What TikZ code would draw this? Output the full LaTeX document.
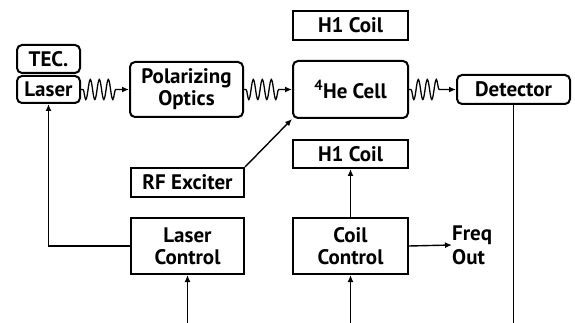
\documentclass[tikz,border=0pt]{standalone}
\usepackage{fontspec}
\setmainfont{PT Sans}
\usetikzlibrary{arrows.meta,decorations.pathmorphing}

\tikzset{
  blk/.style={draw, line width=2pt, minimum width=113pt, minimum height=29pt,
    inner sep=1pt, align=center, font=\fontsize{21}{22}\selectfont\bfseries},
  rblk/.style={blk, rounded corners=5pt},
  wave/.style={->, line width=1.3pt, decorate,
    decoration={snake, mirror, segment length=9pt, amplitude=10pt, pre length=2pt, post length=13pt}},
  link/.style={->, line width=1.4pt}
}

\begin{document}
\begin{tikzpicture}[>={Latex[length=7pt,width=6pt]}, x=1pt, y=-1pt]

\useasboundingbox (0,0) rectangle (575,323);

%==================================================
% Top row: laser, optics, cell, detector
%==================================================
\node[rblk, minimum width=63pt, minimum height=28pt] (tec)   at (48.5,59)   {TEC.};
\node[rblk, minimum width=63pt, minimum height=27pt] (laser) at (48.5,89.5) {Laser};
\node[rblk, minimum height=55pt] (optics) at (186.5,89.5) {Polarizing\\Optics};
\node[rblk, minimum width=115pt, minimum height=57pt] (cell) at (350.5,89.5) {$^{\mathbf 4}$He Cell};
\node[rblk, minimum height=29pt] (det) at (513.5,89.5) {Detector};

% Coils around the cell
\node[blk, minimum width=115pt] (coiltop) at (350.5,25.5) {H1 Coil};
\node[blk, minimum width=115pt, minimum height=28pt] (coilbot) at (350.5,154) {H1 Coil};

%==================================================
% Lower row: exciter and controllers
%==================================================
\node[blk] (rf) at (187.5,182.5) {RF Exciter};
\node[blk, minimum height=56pt] (lasctl)  at (187.5,246) {Laser\\Control};
\node[blk, minimum width=115pt, minimum height=56pt] (coilctl) at (350.5,246) {Coil\\Control};
\node[anchor=west, align=left, inner sep=0pt, font=\fontsize{21}{24}\selectfont\bfseries]
  (freq) at (452,245) {Freq\\Out};

% Free ends at the bottom edge
\coordinate (inL) at (187.5,323);
\coordinate (inC) at (350.5,323);
\coordinate (outD) at (det.south |- 0,323);

%==================================================
% Light path
%==================================================
\draw[wave] (laser.east) -- (optics.west);
\draw[wave] (optics.east) -- (cell.west);
\draw[wave] (cell.east) -- (det.west);

%==================================================
% Signal lines
%==================================================
\draw[link] (rf.north east) -- (cell.south west);
\draw[link] (lasctl.west) -| (laser.south);
\draw[link] (coilctl.north) -- (coilbot.south);
\draw[link] (coilctl.east) -- (freq.west);
\draw[link] (inL) -- (lasctl.south);
\draw[link] (inC) -- (coilctl.south);
\draw[line width=1.4pt] (det.south) -- (outD);

\end{tikzpicture}
\end{document}
